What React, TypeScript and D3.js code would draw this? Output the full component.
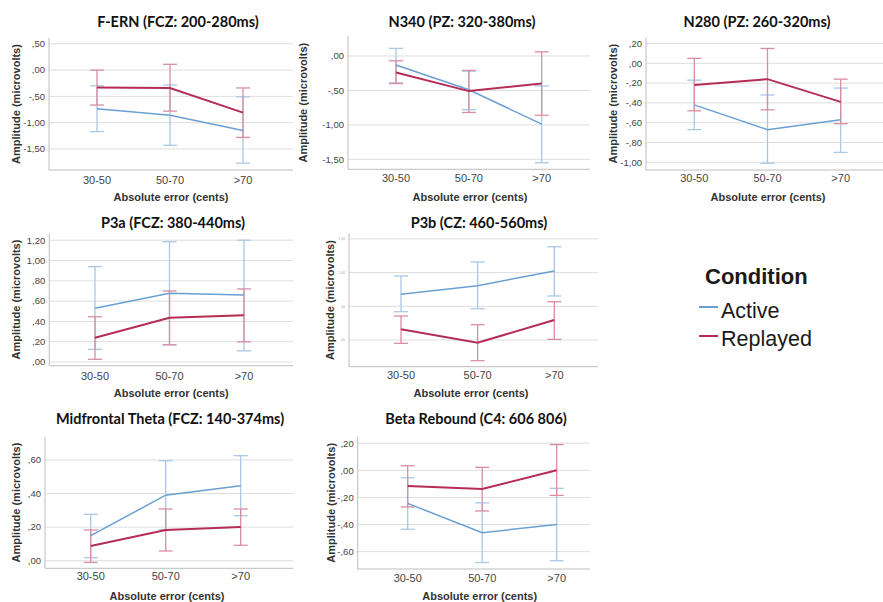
import React from "react";
import * as d3 from "d3";

const categories = ["30-50", "50-70", ">70"];
const seriesNames = ["Active", "Replayed"];

// [mean, lower CI, upper CI]
const fernActive = [[-0.735, -1.17, -0.3], [-0.86, -1.43, -0.285], [-1.15, -1.77, -0.51]];
const fernReplayed = [[-0.33, -0.665, 0.0], [-0.34, -0.78, 0.11], [-0.81, -1.28, -0.34]];
const n340Active = [[-0.13, -0.39, 0.11], [-0.49, -0.78, -0.22], [-0.99, -1.55, -0.435]];
const n340Replayed = [[-0.24, -0.4, -0.07], [-0.51, -0.82, -0.21], [-0.4, -0.86, 0.06]];
const n280Active = [[-0.42, -0.67, -0.17], [-0.67, -1.01, -0.32], [-0.57, -0.9, -0.25]];
const n280Replayed = [[-0.22, -0.48, 0.05], [-0.16, -0.47, 0.15], [-0.39, -0.61, -0.16]];
const p3aActive = [[0.53, 0.125, 0.94], [0.677, 0.17, 1.185], [0.66, 0.11, 1.2]];
const p3aReplayed = [[0.24, 0.027, 0.446], [0.436, 0.17, 0.7], [0.46, 0.2, 0.72]];
const p3bActive = [[0.68, 0.42, 0.95], [0.806, 0.464, 1.157], [1.024, 0.653, 1.384]];
const p3bReplayed = [[0.16, -0.05, 0.356], [-0.04, -0.307, 0.227], [0.297, 0.01, 0.568]];
const thetaActive = [[0.149, 0.018, 0.276], [0.39, 0.185, 0.595], [0.446, 0.268, 0.625]];
const thetaReplayed = [[0.0875, -0.01, 0.183], [0.183, 0.058, 0.308], [0.2, 0.092, 0.308]];
const betaActive = [[-0.244, -0.435, -0.055], [-0.46, -0.68, -0.24], [-0.4, -0.667, -0.133]];
const betaReplayed = [[-0.116, -0.27, 0.034], [-0.138, -0.3, 0.022], [0.0, -0.185, 0.19]];

const fernTicks = [0.5, 0, -0.5, -1, -1.5];
const n340Ticks = [0, -0.5, -1, -1.5];
const n280Ticks = [0.2, 0, -0.2, -0.4, -0.6, -0.8, -1.0];
const p3aTicks = [0, 0.2, 0.4, 0.6, 0.8, 1.0, 1.2];
const p3bTicks = [0, 0.5, 1.0, 1.5];
const thetaTicks = [0, 0.2, 0.4, 0.6];
const betaTicks = [0.2, 0, -0.2, -0.4, -0.6];

const titles = [
  "F-ERN (FCZ: 200-280ms)",
  "N340 (PZ: 320-380ms)",
  "N280 (PZ: 260-320ms)",
  "P3a (FCZ: 380-440ms)",
  "P3b (CZ: 460-560ms)",
  "Midfrontal Theta (FCZ: 140-374ms)",
  "Beta Rebound (C4: 606 806)",
];

const panelData = [
  { title: titles[0], active: fernActive, replayed: fernReplayed, ticks: fernTicks, domain: [-1.9, 0.61] },
  { title: titles[1], active: n340Active, replayed: n340Replayed, ticks: n340Ticks, domain: [-1.645, 0.29] },
  { title: titles[2], active: n280Active, replayed: n280Replayed, ticks: n280Ticks, domain: [-1.078, 0.263] },
  { title: titles[3], active: p3aActive, replayed: p3aReplayed, ticks: p3aTicks, domain: [-0.036, 1.268] },
  { title: titles[4], active: p3bActive, replayed: p3bReplayed, ticks: p3bTicks, domain: [-0.396, 1.583] },
  { title: titles[5], active: thetaActive, replayed: thetaReplayed, ticks: thetaTicks, domain: [-0.045, 0.738] },
  { title: titles[6], active: betaActive, replayed: betaReplayed, ticks: betaTicks, domain: [-0.728, 0.248] },
];

// layout (pixel geometry)
const layouts = [
  { left: 49, right: 293, top: 38, bottom: 170, p0: 97, p2: 243, titleX: 178, titleY: 27, tickY: 184, xTitleY: 201, yTitleX: 16, tinyTicks: false },
  { left: 348, right: 590, top: 36, bottom: 169.3, p0: 396, p2: 541.7, titleX: 462, titleY: 27, tickY: 182, xTitleY: 201, yTitleX: 303, tinyTicks: false },
  { left: 646, right: 883, top: 37.3, bottom: 170, p0: 694.3, p2: 840.7, titleX: 757, titleY: 27, tickY: 182, xTitleY: 201, yTitleX: 613, tinyTicks: false },
  { left: 49.3, right: 293, top: 233.3, bottom: 365.7, p0: 95, p2: 244, titleX: 173, titleY: 228, tickY: 380, xTitleY: 397, yTitleX: 16, tinyTicks: false },
  { left: 349, right: 598, top: 233.3, bottom: 366.7, p0: 401, p2: 554.3, titleX: 479, titleY: 228, tickY: 379, xTitleY: 397, yTitleX: 330, tinyTicks: true },
  { left: 45, right: 293, top: 436.7, bottom: 568.3, p0: 90.7, p2: 240.7, titleX: 170, titleY: 424, tickY: 580, xTitleY: 600, yTitleX: 16, tinyTicks: false },
  { left: 357.7, right: 590, top: 436.7, bottom: 569, p0: 407.7, p2: 556.7, titleX: 476, titleY: 424, tickY: 582, xTitleY: 600, yTitleX: 331, tinyTicks: false },
];

const BLUE = "#6a9fd4";
const RED = "#b52c55";
const BLUE_ERR = "#a9c8e6";
const RED_ERR = "#d98da3";

function fmt(v: number) {
  const s = Math.abs(v).toFixed(2).replace(".", ",");
  const t = s.startsWith("0") ? s.slice(1) : s;
  return v < -1e-9 ? "-" + t : t;
}

function Panel({ d, l }: any) {
  const x = d3.scalePoint<string>().domain(categories).range([l.p0, l.p2]);
  const y = d3.scaleLinear().domain(d.domain).range([l.bottom, l.top]);
  const line = d3
    .line<number[]>()
    .x((_, i) => x(categories[i]) as number)
    .y((v) => y(v[0]));
  const cap = 7;
  const series = [
    { name: seriesNames[0], vals: d.active, color: BLUE, err: BLUE_ERR, w: 1.5 },
    { name: seriesNames[1], vals: d.replayed, color: RED, err: RED_ERR, w: 2 },
  ];
  const midY = (l.top + l.bottom) / 2;
  return (
    <g>
      {d.ticks.map((t: number) => (
        <g key={t}>
          <line x1={l.left} x2={l.right} y1={y(t)} y2={y(t)} stroke="#dedede" strokeWidth={1} />
          <text
            x={l.left - 4}
            y={y(t)}
            dy="0.35em"
            textAnchor="end"
            fontSize={l.tinyTicks ? 3.5 : 9.5}
            fill={l.tinyTicks ? "#aaa" : "#444"}
            fontFamily="Liberation Sans, Arial, sans-serif"
          >
            {fmt(t)}
          </text>
        </g>
      ))}
      <line x1={l.left} x2={l.left} y1={l.top} y2={l.bottom} stroke="#bdbdbd" strokeWidth={1} />
      <line x1={l.left} x2={l.right} y1={l.bottom} y2={l.bottom} stroke="#bdbdbd" strokeWidth={1} />
      {series.map((s) => (
        <g key={s.name}>
          {s.vals.map((v: number[], i: number) => {
            const cx = x(categories[i]) as number;
            return (
              <g key={i} stroke={s.err} strokeWidth={1.3}>
                <line x1={cx} x2={cx} y1={y(v[1])} y2={y(v[2])} />
                <line x1={cx - cap} x2={cx + cap} y1={y(v[1])} y2={y(v[1])} />
                <line x1={cx - cap} x2={cx + cap} y1={y(v[2])} y2={y(v[2])} />
              </g>
            );
          })}
        </g>
      ))}
      {series.map((s) => (
        <path key={s.name} d={line(s.vals) as string} fill="none" stroke={s.color} strokeWidth={s.w} />
      ))}
      {categories.map((c) => (
        <text
          key={c}
          x={x(c) as number}
          y={l.tickY}
          textAnchor="middle"
          fontSize={11}
          fill="#444"
          fontFamily="Liberation Sans, Arial, sans-serif"
        >
          {c}
        </text>
      ))}
      <text
        x={(l.left + 293 - 49 + l.left) / 2}
        y={l.xTitleY}
        textAnchor="middle"
        fontSize={11}
        fontWeight="bold"
        fill="#333"
        fontFamily="Liberation Sans, Arial, sans-serif"
      >
        Absolute error (cents)
      </text>
      <text
        transform={`translate(${l.yTitleX},${midY}) rotate(-90)`}
        textAnchor="middle"
        dy="0.35em"
        fontSize={11}
        fontWeight="bold"
        fill="#333"
        fontFamily="Liberation Sans, Arial, sans-serif"
      >
        Amplitude (microvolts)
      </text>
      <text
        x={l.titleX}
        y={l.titleY}
        textAnchor="middle"
        fontSize={14.5}
        fontWeight="bold"
        fill="#111"
        fontFamily="Lato, 'Open Sans', sans-serif"
      >
        {d.title}
      </text>
    </g>
  );
}

export default function App() {
  return (
    <svg
      width={883}
      height={602}
      style={{ position: "absolute", left: 0, top: 0, background: "#fff" }}
    >
      <rect width={883} height={602} fill="#fff" />
      {panelData.map((d, i) => (
        <Panel key={i} d={d} l={layouts[i]} />
      ))}
      <g fontFamily="Liberation Sans, Arial, sans-serif" fill="#1a1a1a">
        <text x={705} y={284} fontSize={22} fontWeight="bold">
          Condition
        </text>
        <line x1={699} x2={718} y1={307} y2={307} stroke={BLUE} strokeWidth={2} />
        <text x={721} y={318} fontSize={21.5}>
          {seriesNames[0]}
        </text>
        <line x1={699} x2={718} y1={336} y2={336} stroke={RED} strokeWidth={2} />
        <text x={721} y={346} fontSize={21.5}>
          {seriesNames[1]}
        </text>
      </g>
    </svg>
  );
}
